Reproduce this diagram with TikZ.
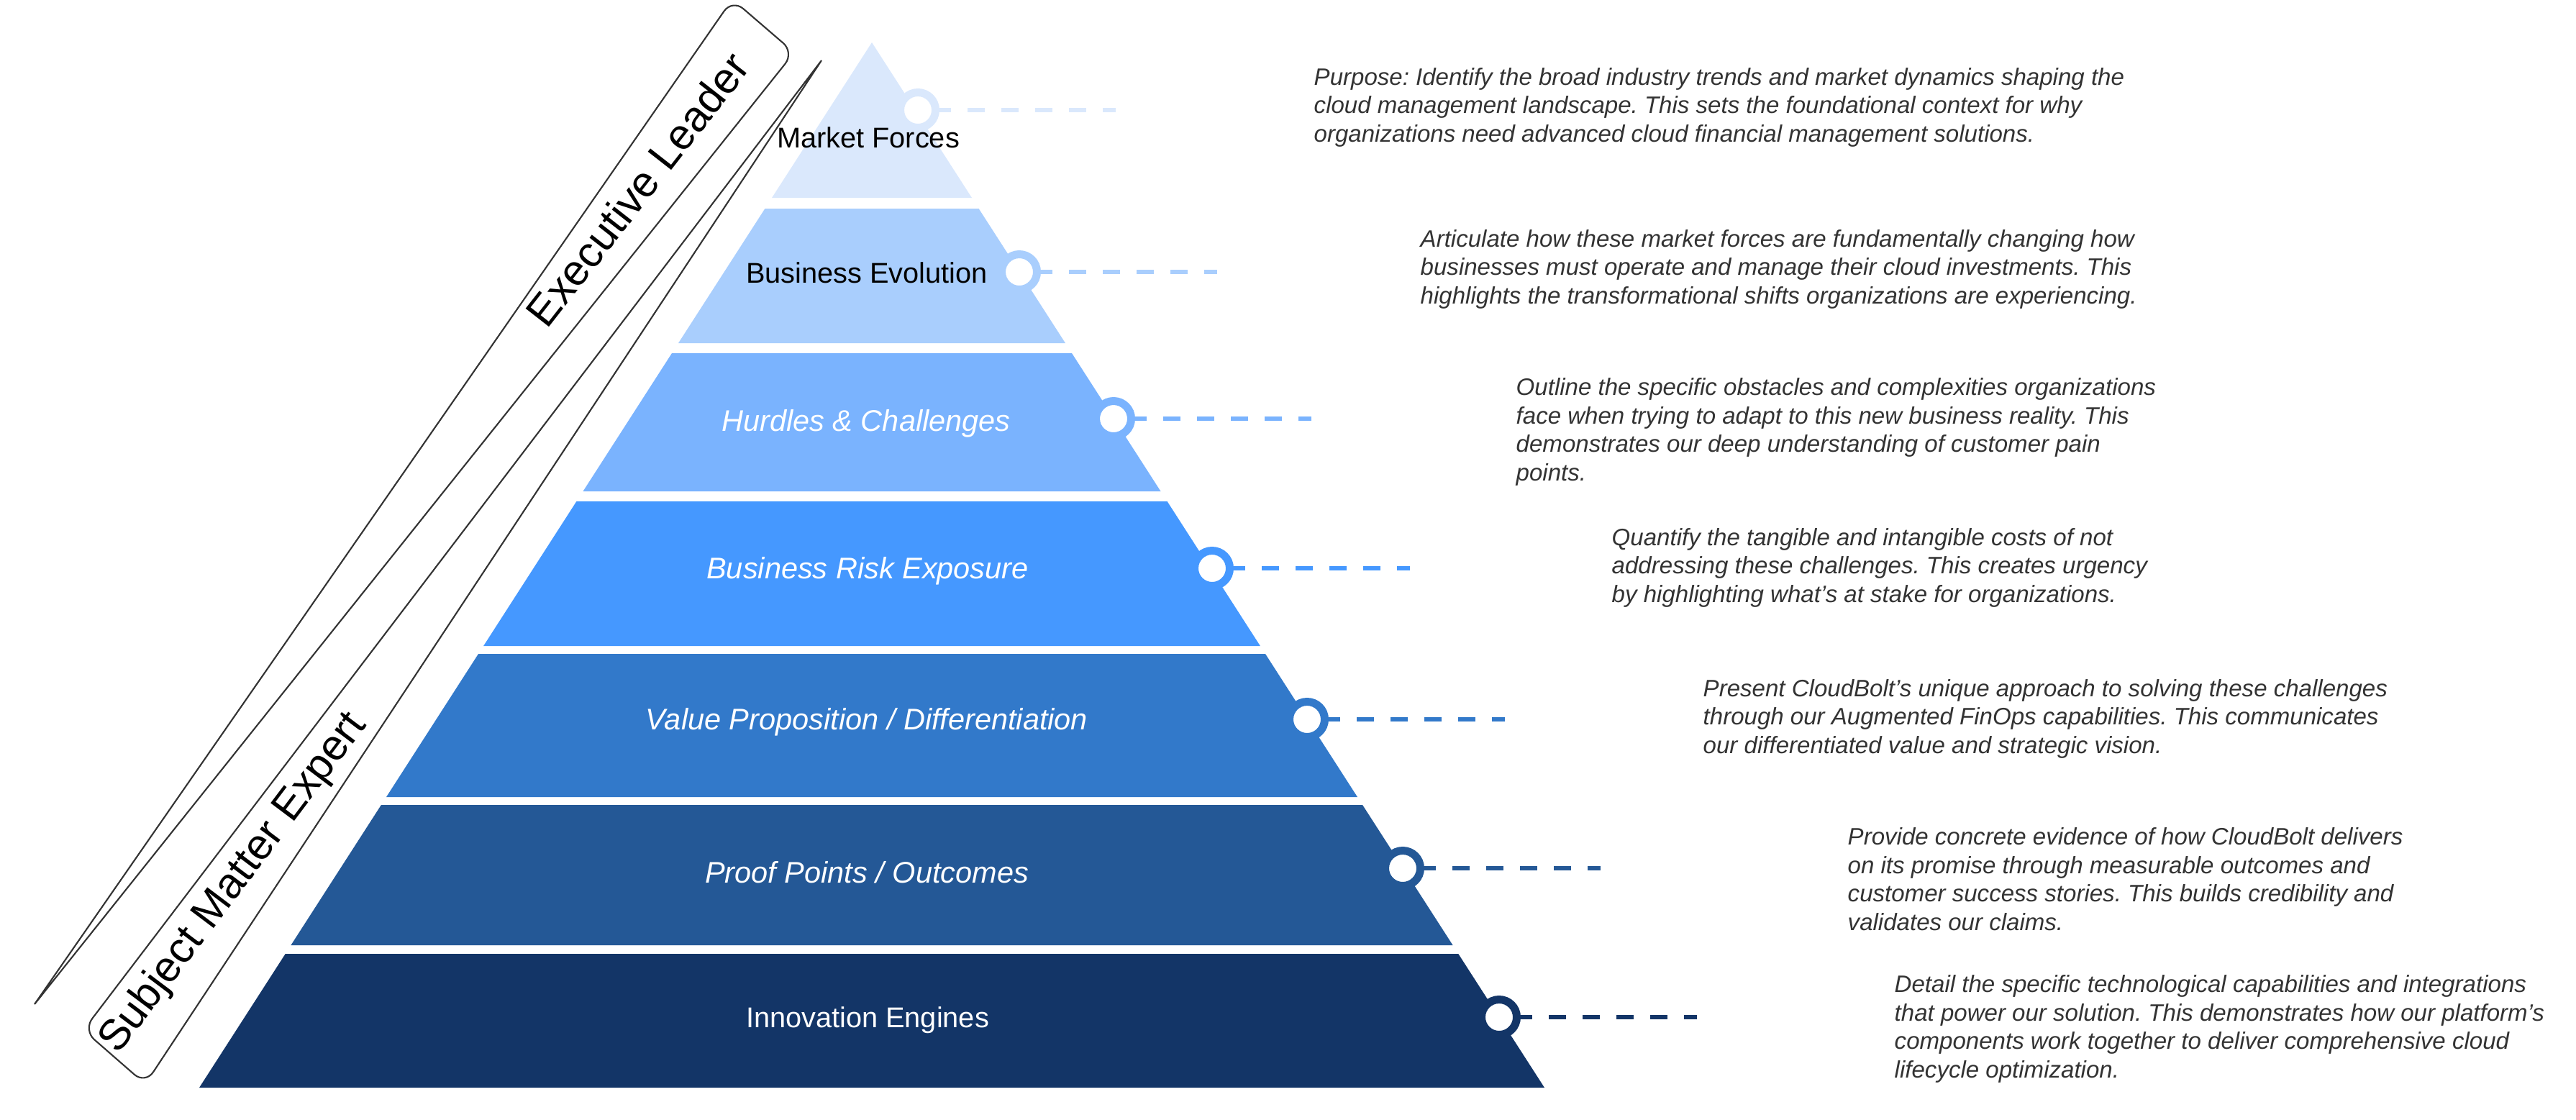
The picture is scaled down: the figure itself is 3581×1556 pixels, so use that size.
\documentclass[tikz,border=0pt]{standalone}
\usepackage{fontspec}
\setmainfont{Liberation Sans}
\frenchspacing
\definecolor{tA}{HTML}{DAE8FC}
\definecolor{tB}{HTML}{A9CEFD}
\definecolor{tC}{HTML}{7AB3FE}
\definecolor{tD}{HTML}{4598FF}
\definecolor{tE}{HTML}{3279CA}
\definecolor{tF}{HTML}{245896}
\definecolor{tG}{HTML}{133567}
\definecolor{desccol}{HTML}{333333}
\definecolor{bandcol}{HTML}{333333}
\tikzset{
  tierlabel/.style={anchor=base, inner sep=0, font=\fontsize{11.3}{13}\selectfont},
  tierit/.style={anchor=base, inner sep=0, font=\fontsize{11.8}{13}\selectfont\itshape},
  desc/.style={anchor=base west, align=left, inner sep=0, text=desccol,
    font=\fontsize{9.4}{11.2}\selectfont\itshape},
  dot/.style={circle, minimum size=0.49cm, inner sep=0, line width=0.11cm, fill=white},
  leader/.style={line width=0.06cm, dash pattern=on 0.235cm off 0.235cm, dash phase=0.08cm},
  band/.style={draw=bandcol, line width=0.6pt},
  sidelabel/.style={inner sep=0, font=\fontsize{17}{20}\selectfont}
}
\begin{document}
\begin{tikzpicture}[x=0.01cm,y=-0.01cm]
\useasboundingbox (0,0) rectangle (3581,1556);

% side bands
\draw[band] (48,1396) [rounded corners=0.2cm] -- (1018,-1) -- (1104,73) [sharp corners] -- cycle;
\draw[band] (1142,84) [rounded corners=0.2cm] -- (116,1432) -- (202,1507) [sharp corners] -- cycle;
\node[sidelabel, rotate=52] (exec) at (886,263) {Executive Leader};
\node[sidelabel, rotate=53] (sme) at (325,1228) {Subject Matter Expert};

% pyramid tiers
\fill[tA] (1212,59) -- (1351,275) -- (1073,275) -- cycle;
\fill[tB] (1063.4,290) -- (1360.6,290) -- (1481,477) -- (943,477) -- cycle;
\fill[tC] (934,491) -- (1490,491) -- (1613.5,683) -- (810.5,683) -- cycle;
\fill[tD] (801.4,697) -- (1622.6,697) -- (1751.9,898) -- (672.1,898) -- cycle;
\fill[tE] (665,909) -- (1759,909) -- (1887,1108) -- (537,1108) -- cycle;
\fill[tF] (529.9,1119) -- (1894.1,1119) -- (2019.6,1314) -- (404.4,1314) -- cycle;
\fill[tG] (396.7,1326) -- (2027.3,1326) -- (2147,1512) -- (277,1512) -- cycle;

% tier labels
\node[tierlabel, text=black] (l1) at (1207,205) {Market Forces};
\node[tierlabel, text=black] (l2) at (1205,393) {Business Evolution};
\node[tierit, text=white] (l3) at (1204,599) {Hurdles \& Challenges};
\node[tierit, text=white] (l4) at (1206,804) {Business Risk Exposure};
\node[tierit, text=white] (l5) at (1205,1014) {Value Proposition / Differentiation};
\node[tierit, text=white] (l6) at (1205,1227) {Proof Points / Outcomes};
\node[tierlabel, text=white] (l7) at (1206,1428) {Innovation Engines};

% circles
\node[dot, draw=tA] (c1) at (1276,153) {};
\node[dot, draw=tB] (c2) at (1417,378) {};
\node[dot, draw=tC] (c3) at (1548,582) {};
\node[dot, draw=tD] (c4) at (1685,790) {};
\node[dot, draw=tE] (c5) at (1817,1000) {};
\node[dot, draw=tF] (c6) at (1950,1207) {};
\node[dot, draw=tG] (c7) at (2084,1414) {};

\coordinate (e1) at (1551,153);
\coordinate (e2) at (1692,378);
\coordinate (e3) at (1823,582);
\coordinate (e4) at (1960,790);
\coordinate (e5) at (2092,1000);
\coordinate (e6) at (2225,1207);
\coordinate (e7) at (2359,1414);

\draw[leader, tA] (c1) -- (e1);
\draw[leader, tB] (c2) -- (e2);
\draw[leader, tC] (c3) -- (e3);
\draw[leader, tD] (c4) -- (e4);
\draw[leader, tE] (c5) -- (e5);
\draw[leader, tF] (c6) -- (e6);
\draw[leader, tG] (c7) -- (e7);

% descriptions (anchor = baseline of last line)
\node[desc] (d1) at (1826,197) {Purpose: Identify the broad industry trends and market dynamics shaping the\\cloud management landscape. This sets the foundational context for why\\organizations need advanced cloud financial management solutions.};
\node[desc] (d2) at (1974,422) {Articulate how these market forces are fundamentally changing how\\businesses must operate and manage their cloud investments. This\\highlights the transformational shifts organizations are experiencing.};
\node[desc] (d3) at (2107,668) {Outline the specific obstacles and complexities organizations\\face when trying to adapt to this new business reality. This\\demonstrates our deep understanding of customer pain\\points.};
\node[desc] (d4) at (2240,837) {Quantify the tangible and intangible costs of not\\addressing these challenges. This creates urgency\\by highlighting what's at stake for organizations.};
\node[desc] (d5) at (2367,1047) {Present CloudBolt's unique approach to solving these challenges\\through our Augmented FinOps capabilities. This communicates\\our differentiated value and strategic vision.};
\node[desc] (d6) at (2568,1293) {Provide concrete evidence of how CloudBolt delivers\\on its promise through measurable outcomes and\\customer success stories. This builds credibility and\\validates our claims.};
\node[desc] (d7) at (2633,1498) {Detail the specific technological capabilities and integrations\\that power our solution. This demonstrates how our platform's\\components work together to deliver comprehensive cloud\\lifecycle optimization.};
\end{tikzpicture}
\end{document}
